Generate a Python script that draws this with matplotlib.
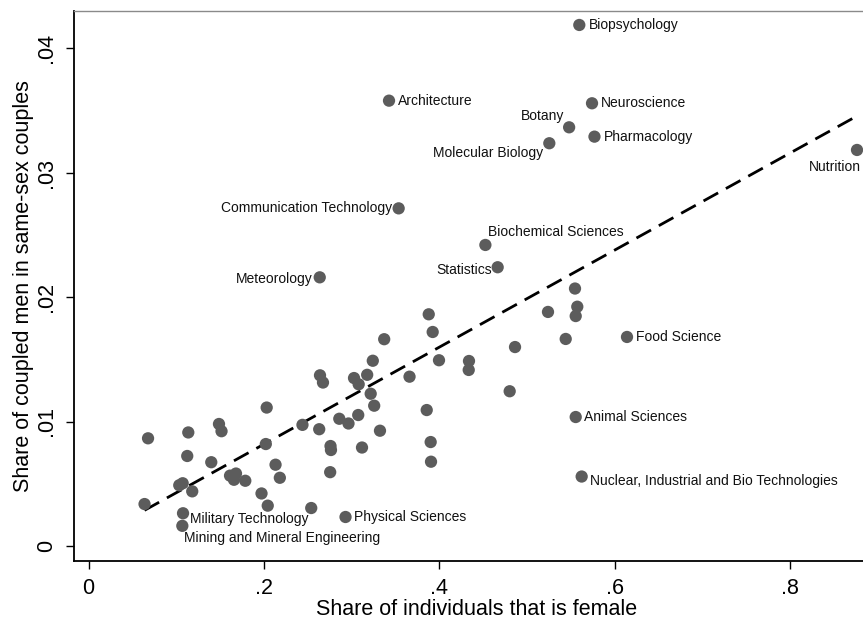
import numpy as np
import matplotlib
matplotlib.use("Agg")
import matplotlib.pyplot as plt

plt.rcParams['font.family'] = ['Liberation Sans', 'DejaVu Sans']

# labelled fields of study
fields = ["Biopsychology", "Architecture", "Neuroscience", "Botany",
          "Pharmacology", "Molecular Biology", "Nutrition",
          "Communication Technology", "Biochemical Sciences", "Statistics",
          "Meteorology", "Food Science", "Animal Sciences",
          "Nuclear, Industrial and Bio Technologies", "Military Technology",
          "Mining and Mineral Engineering", "Physical Sciences"]
fields_female = [0.5597, 0.3427, 0.5742, 0.5481, 0.5770, 0.5255, 0.8764,
                 0.3537, 0.4526, 0.4666, 0.2637, 0.6141, 0.5556, 0.5624,
                 0.1078, 0.1070, 0.2931]
fields_samesex = [0.04185, 0.03577, 0.03556, 0.03363, 0.03288, 0.03235,
                  0.03181, 0.02712, 0.02418, 0.02239, 0.02158, 0.01679,
                  0.01036, 0.00558, 0.00263, 0.00162, 0.00233]

# remaining (unlabelled) fields
other_female = [0.0639, 0.0679, 0.1138, 0.1126, 0.1488, 0.1517, 0.1400,
                0.1035, 0.1074, 0.1183, 0.1614, 0.1682, 0.1659, 0.1788,
                0.1973, 0.2044, 0.2540, 0.2032, 0.2022, 0.2133, 0.2182,
                0.2440, 0.2631, 0.2640, 0.2674, 0.2760, 0.2765, 0.2756,
                0.2860, 0.2965, 0.3076, 0.3119, 0.3028, 0.3081, 0.3178,
                0.3218, 0.3258, 0.3242, 0.3372, 0.3324, 0.3661, 0.3880,
                0.3925, 0.3997, 0.4339, 0.4336, 0.4864, 0.4803, 0.3857,
                0.3902, 0.3906, 0.5240, 0.5442, 0.5548, 0.5574, 0.5556]
other_samesex = [0.00337, 0.00865, 0.00912, 0.00723, 0.00980, 0.00922,
                 0.00673, 0.00488, 0.00504, 0.00439, 0.00565, 0.00582,
                 0.00532, 0.00524, 0.00422, 0.00324, 0.00305, 0.01112,
                 0.00819, 0.00653, 0.00548, 0.00973, 0.00938, 0.01371,
                 0.01313, 0.00803, 0.00771, 0.00593, 0.01022, 0.00984,
                 0.01052, 0.00791, 0.01349, 0.01299, 0.01375, 0.01223,
                 0.01127, 0.01488, 0.01661, 0.00926, 0.01360, 0.01861,
                 0.01719, 0.01492, 0.01486, 0.01414, 0.01598, 0.01243,
                 0.01092, 0.00835, 0.00677, 0.01880, 0.01663, 0.02068,
                 0.01922, 0.01847]

# label placement: (dx, dy) in pixels, horizontal alignment
label_pos = {
    "Biopsychology": (10, 0, "left"),
    "Architecture": (9, 0, "left"),
    "Neuroscience": (9, 0, "left"),
    "Botany": (-5, 11, "right"),
    "Pharmacology": (9, 0, "left"),
    "Molecular Biology": (-6, -10, "right"),
    "Nutrition": (4, -17, "right"),
    "Communication Technology": (-7, 0, "right"),
    "Biochemical Sciences": (3, 13, "left"),
    "Statistics": (-6, -3, "right"),
    "Meteorology": (-7, -2, "right"),
    "Food Science": (9, 0, "left"),
    "Animal Sciences": (8, 0, "left"),
    "Nuclear, Industrial and Bio Technologies": (8, -4, "left"),
    "Military Technology": (7, -6, "left"),
    "Mining and Mineral Engineering": (2, -12, "left"),
    "Physical Sciences": (8, 0, "left"),
}

W, H = 863, 622
fig = plt.figure(figsize=(W / 100, H / 100), dpi=100)
ax = fig.add_axes([74 / W, (H - 561) / H, (880 - 74) / W, (561 - 11) / H])

x_all = np.array(fields_female + other_female)
y_all = np.array(fields_samesex + other_samesex)

dot = "#5c5c5c"
ax.scatter(x_all, y_all, s=78, color=dot, edgecolors="none", zorder=3,
           clip_on=False)

# linear fit over the data range
b, a = np.polyfit(x_all, y_all, 1)
xf = np.array([x_all.min(), x_all.max()])
ax.plot(xf, a + b * xf, color="black", lw=2.0, dashes=(6, 3.2), zorder=2)

for name, xv, yv in zip(fields, fields_female, fields_samesex):
    dx, dy, ha = label_pos[name]
    ax.annotate(name, (xv, yv), xytext=(dx, dy), textcoords="offset pixels",
                ha=ha, va="center", fontsize=10, color="#111111",
                annotation_clip=False)

# pixel -> data mapping of the plot region
x0px, xscale = 88.5, 876.9
y0px, yscale = 546.0, 12450.0
ax.set_xlim((74 - x0px) / xscale, (880 - x0px) / xscale)
ax.set_ylim((y0px - 561) / yscale, (y0px - 11) / yscale)

ax.set_xticks([0, 0.2, 0.4, 0.6, 0.8])
ax.set_xticklabels(["0", ".2", ".4", ".6", ".8"])
ax.set_yticks([0, 0.01, 0.02, 0.03, 0.04])
ax.set_yticklabels(["0", ".01", ".02", ".03", ".04"], rotation=90,
                   va="center")
ax.tick_params(axis="both", direction="out", length=6, width=1,
               labelsize=15.5, color="black", pad=6)

for side in ("left", "bottom"):
    ax.spines[side].set_linewidth(1.3)
    ax.spines[side].set_color("black")
ax.spines["top"].set_color("#8a8a8a")
ax.spines["top"].set_linewidth(1.0)
ax.spines["right"].set_visible(False)

ax.set_xlabel("Share of individuals that is female", fontsize=15.5,
              labelpad=0)
ax.set_ylabel("Share of coupled men in same-sex couples", fontsize=15.5,
              labelpad=2)

fig.savefig("out.png", dpi=100)
